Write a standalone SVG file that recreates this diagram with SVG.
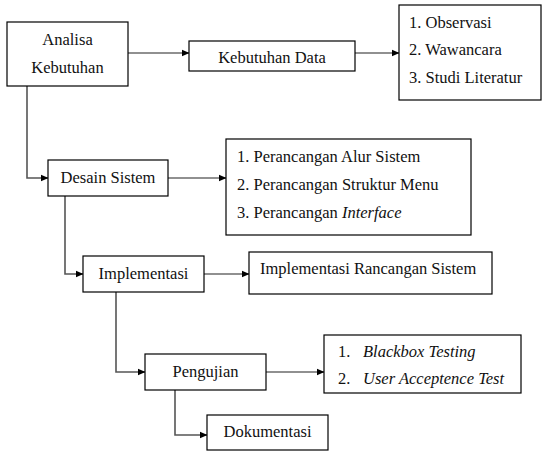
<svg xmlns="http://www.w3.org/2000/svg" width="544" height="452" viewBox="0 0 544 452">
  <style>
    .box { fill: #fff; stroke: #000; stroke-width: 1.2; }
    text { font-family: "Liberation Serif", Tinos, "Times New Roman", Times, "Noto Serif", "DejaVu Serif", FreeSerif, serif; font-size: 16.5px; fill: #111; }
    .c { text-anchor: middle; }
    .i { font-style: italic; }
    .ln { fill: none; stroke: #222; stroke-width: 1.2; }
    .lv { fill: none; stroke: #555; stroke-width: 1.6; }
  </style>
  <defs>
    <marker id="arr" markerWidth="8" markerHeight="8" refX="7" refY="4" orient="auto" markerUnits="userSpaceOnUse">
      <path d="M0,0.8 L7.5,4 L0,7.2 Z" fill="#000"/>
    </marker>
  </defs>
  <rect width="544" height="452" fill="#fff"/>

  <g id="connectors">
    <path class="ln" d="M128,53 H189" marker-end="url(#arr)"/>
    <path class="ln" d="M355,53 H399" marker-end="url(#arr)"/>
    <path class="lv" d="M27,86 V178 H48" marker-end="url(#arr)"/>
    <path class="ln" d="M168,178 H226" marker-end="url(#arr)"/>
    <path class="lv" d="M65,196 V274 H83" marker-end="url(#arr)"/>
    <path class="ln" d="M204,274 H249" marker-end="url(#arr)"/>
    <path class="lv" d="M116,292 V372 H145" marker-end="url(#arr)"/>
    <path class="ln" d="M266,372 H324" marker-end="url(#arr)"/>
    <path class="lv" d="M175,390 V435 H207" marker-end="url(#arr)"/>
  </g>

  <g id="analisa">
    <rect class="box" x="7" y="22" width="121" height="64"/>
    <text class="c" x="67.5" y="45">Analisa</text>
    <text class="c" x="67.5" y="73">Kebutuhan</text>
  </g>

  <g id="kebutuhan-data">
    <rect class="box" x="189" y="41" width="166" height="30"/>
    <text class="c" x="272" y="63">Kebutuhan Data</text>
  </g>

  <g id="metode-data">
    <rect class="box" x="399" y="5" width="142" height="95"/>
    <text x="409" y="28">1. Observasi</text>
    <text x="409" y="55">2. Wawancara</text>
    <text x="409" y="83">3. Studi Literatur</text>
  </g>

  <g id="desain">
    <rect class="box" x="48" y="160" width="120" height="36"/>
    <text class="c" x="108" y="183">Desain Sistem</text>
  </g>

  <g id="perancangan">
    <rect class="box" x="226" y="139" width="245" height="96"/>
    <text x="237" y="162">1. Perancangan Alur Sistem</text>
    <text x="237" y="190">2. Perancangan Struktur Menu</text>
    <text x="237" y="218">3. Perancangan <tspan class="i">Interface</tspan></text>
  </g>

  <g id="implementasi">
    <rect class="box" x="83" y="256" width="121" height="36"/>
    <text class="c" x="143.5" y="279">Implementasi</text>
  </g>

  <g id="rancangan">
    <rect class="box" x="249" y="252" width="243" height="42"/>
    <text x="260" y="274">Implementasi Rancangan Sistem</text>
  </g>

  <g id="pengujian">
    <rect class="box" x="145" y="354" width="121" height="36"/>
    <text class="c" x="205.5" y="377">Pengujian</text>
  </g>

  <g id="testing">
    <rect class="box" x="324" y="335" width="197" height="58"/>
    <text x="338" y="357">1.</text>
    <text class="i" x="363" y="357">Blackbox Testing</text>
    <text x="338" y="384">2.</text>
    <text class="i" x="363" y="384">User Acceptence Test</text>
  </g>

  <g id="dokumentasi">
    <rect class="box" x="207" y="415" width="121" height="35"/>
    <text class="c" x="267.5" y="437">Dokumentasi</text>
  </g>
</svg>
